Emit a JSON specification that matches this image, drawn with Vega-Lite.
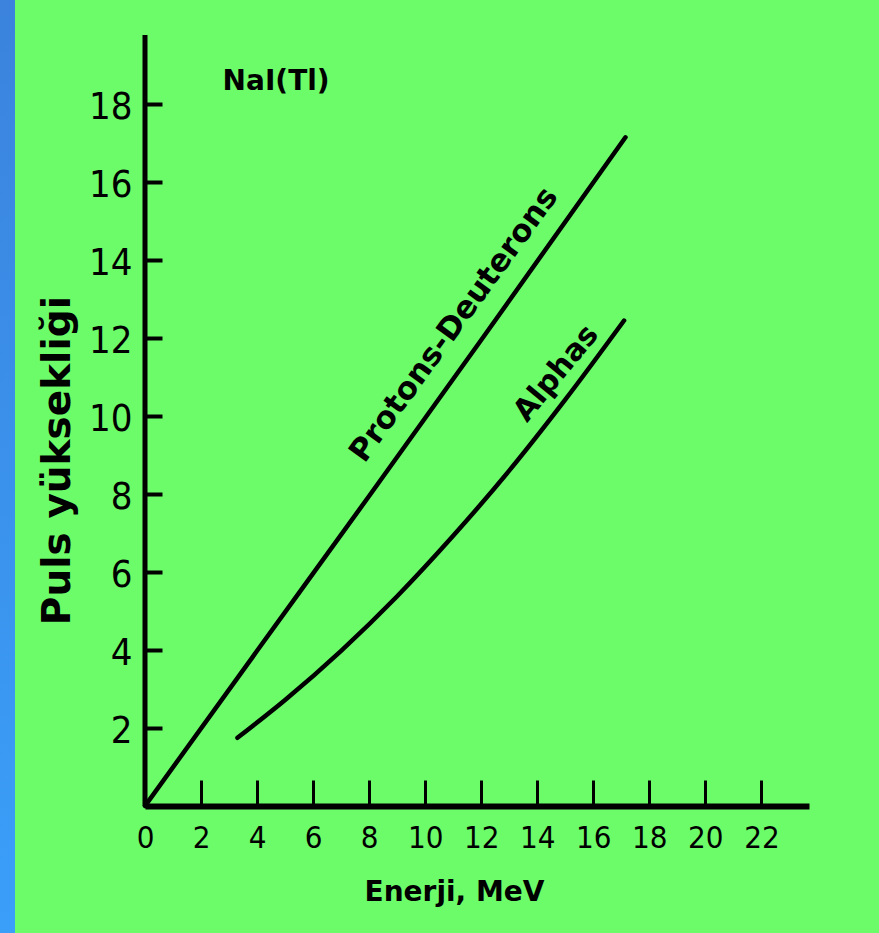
{
  "$schema": "https://vega.github.io/schema/vega-lite/v6.json",
  "background": "#6cfc6a",
  "padding": {"left": 0, "top": 0, "right": 70, "bottom": 0},
  "bounds": "flush",
  "spacing": 130,
  "config": {"view": {"stroke": null}},
  "hconcat": [
    {
      "width": 15,
      "height": 933,
      "view": {"fill": "#3b90ea", "stroke": null},
      "data": {"values": [{}]},
      "mark": {
        "type": "rect",
        "color": {
          "gradient": "linear",
          "x1": 0, "y1": 0, "x2": 0, "y2": 1,
          "stops": [
            {"offset": 0, "color": "#3b83dd"},
            {"offset": 1, "color": "#3a9ff9"}
          ]
        }
      },
      "encoding": {}
    },
    {
      "width": 664,
      "height": 806,
      "layer": [
        {
          "data": {
            "values": [
              {"series": "Protons-Deuterons", "energy": 0, "pulse": 0},
              {"series": "Protons-Deuterons", "energy": 4, "pulse": 3.98},
              {"series": "Protons-Deuterons", "energy": 8, "pulse": 7.95},
              {"series": "Protons-Deuterons", "energy": 12, "pulse": 11.95},
              {"series": "Protons-Deuterons", "energy": 17.15, "pulse": 17.15},
              {"series": "Alphas", "energy": 3.3, "pulse": 1.75},
              {"series": "Alphas", "energy": 5, "pulse": 2.72},
              {"series": "Alphas", "energy": 7, "pulse": 3.98},
              {"series": "Alphas", "energy": 9, "pulse": 5.38},
              {"series": "Alphas", "energy": 11, "pulse": 6.93},
              {"series": "Alphas", "energy": 13, "pulse": 8.6},
              {"series": "Alphas", "energy": 15, "pulse": 10.42},
              {"series": "Alphas", "energy": 17.1, "pulse": 12.45}
            ]
          },
          "mark": {"type": "line", "color": "black", "strokeWidth": 4.5, "strokeCap": "round", "interpolate": "monotone"},
          "encoding": {
            "x": {
              "field": "energy", "type": "quantitative",
              "scale": {"domain": [0, 23.7], "nice": false, "zero": false},
              "axis": {
                "title": "Enerji, MeV",
                "values": [0, 2, 4, 6, 8, 10, 12, 14, 16, 18, 20, 22],
                "grid": false,
                "domainColor": "black", "domainWidth": 6,
                "tickColor": "black", "tickWidth": 3, "tickSize": -26,
                "labelPadding": 43, "labelFlush": false, "labelOverlap": false,
                "labelFont": "Liberation Sans Narrow, DejaVu Sans Condensed, Liberation Sans",
                "labelFontSize": 31, "labelColor": "black",
                "titleFont": "DejaVu Sans", "titleFontWeight": "bold", "titleFontSize": 28, "titleColor": "black",
                "titleX": 309, "titleY": 94, "titleBaseline": "alphabetic", "titleAlign": "center"
              }
            },
            "y": {
              "field": "pulse", "type": "quantitative",
              "scale": {"domain": [0, 20.67], "nice": false, "zero": false},
              "axis": {
                "title": "Puls yüksekliği",
                "values": [2, 4, 6, 8, 10, 12, 14, 16, 18],
                "grid": false, "domain": false,
                "tickColor": "black", "tickWidth": 4, "tickSize": -17,
                "labelPadding": 30, "labelFlush": false, "labelOverlap": false, "labelOffset": 3,
                "labelFont": "Liberation Sans Narrow, DejaVu Sans Condensed, Liberation Sans",
                "labelFontSize": 38, "labelColor": "black",
                "titleFont": "DejaVu Sans", "titleFontWeight": "bold", "titleFontSize": 39, "titleColor": "black",
                "titleX": -76, "titleY": 460, "titleBaseline": "alphabetic", "titleAlign": "center", "titleAngle": -90
              }
            },
            "detail": {"field": "series"}
          }
        },
        {
          "data": {"values": [{}]},
          "mark": {"type": "rule", "color": "black", "strokeWidth": 5},
          "encoding": {"x": {"datum": 0}, "y": {"datum": 0}, "y2": {"datum": 19.77}}
        },
        {
          "data": {"values": [{"label": "NaI(Tl)", "energy": 4.68, "pulse": 18.35}]},
          "mark": {"type": "text", "font": "DejaVu Sans", "fontWeight": "bold", "fontSize": 28, "baseline": "alphabetic", "align": "center", "color": "black"},
          "encoding": {
            "x": {"field": "energy", "type": "quantitative"},
            "y": {"field": "pulse", "type": "quantitative"},
            "text": {"field": "label"}
          }
        },
        {
          "data": {"values": [{"label": "Protons-Deuterons", "energy": 11.3, "pulse": 12.2}]},
          "mark": {"type": "text", "font": "DejaVu Sans", "fontWeight": "bold", "fontSize": 31, "baseline": "alphabetic", "align": "center", "angle": -54, "color": "black"},
          "encoding": {
            "x": {"field": "energy", "type": "quantitative"},
            "y": {"field": "pulse", "type": "quantitative"},
            "text": {"field": "label"}
          }
        },
        {
          "data": {"values": [{"label": "Alphas", "energy": 14.93, "pulse": 10.95}]},
          "mark": {"type": "text", "font": "DejaVu Sans", "fontWeight": "bold", "fontSize": 30, "baseline": "alphabetic", "align": "center", "angle": -50.5, "color": "black"},
          "encoding": {
            "x": {"field": "energy", "type": "quantitative"},
            "y": {"field": "pulse", "type": "quantitative"},
            "text": {"field": "label"}
          }
        }
      ]
    }
  ]
}
